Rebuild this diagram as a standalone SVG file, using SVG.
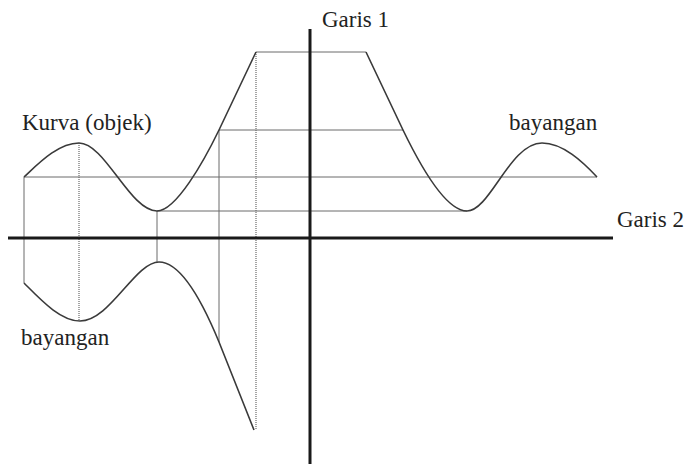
<svg xmlns="http://www.w3.org/2000/svg" width="686" height="464" viewBox="0 0 686 464">
<style>
.bg{fill:#ffffff}
.axis{stroke:#1a1a1a;stroke-width:3;fill:none}
.thin{stroke:#6a6a6a;stroke-width:1;fill:none}
.dot{stroke:#6a6a6a;stroke-width:1.2;fill:none;stroke-dasharray:1 1}
.curve{stroke:#3a3a3a;stroke-width:1.6;fill:none;stroke-linejoin:round}
.lbl{font-family:"Liberation Serif","DejaVu Serif","Times New Roman",serif;font-size:23px;fill:#222}
</style>
<rect class="bg" x="0" y="0" width="686" height="464"/>
<g id="connectors">
  <line class="thin" x1="256" y1="52" x2="366" y2="52"/>
  <line class="thin" x1="219" y1="130" x2="403" y2="130"/>
  <line class="thin" x1="24" y1="177" x2="597" y2="177"/>
  <line class="thin" x1="157" y1="211" x2="467" y2="211"/>
  <line class="thin" x1="24" y1="177" x2="24" y2="283"/>
  <line class="thin" x1="157" y1="211" x2="157" y2="262"/>
  <line class="thin" x1="219" y1="130" x2="219" y2="342"/>
  <line class="dot" x1="79" y1="143" x2="79" y2="321"/>
  <line class="dot" x1="256" y1="52" x2="256" y2="430"/>
</g>
<g id="garis1">
  <line class="axis" x1="310" y1="29" x2="310" y2="464"/>
  <text class="lbl" x="322" y="27">Garis 1</text>
</g>
<g id="garis2">
  <line class="axis" x1="8" y1="238" x2="613" y2="238"/>
  <text class="lbl" x="617" y="227">Garis 2</text>
</g>
<g id="objek">
  <path class="curve" d="M24,177 C38,164 58,143 79,143 C105,143 130,211 157,211 C176,211 204,161 219,130 L256,52"/>
  <text class="lbl" x="22" y="130">Kurva (objek)</text>
</g>
<g id="bayangan-kanan">
  <path class="curve" d="M366,52 L403,130 C418,161 445,211 467,211 C490,211 510,143 542,143 C563,143 583,162 597,177"/>
  <text class="lbl" x="509" y="130">bayangan</text>
</g>
<g id="bayangan-bawah">
  <path class="curve" d="M24,283 C40,299 60,321 80,321 C110,321 135,262 159,262 C183,262 205,308 219,342 L254,430"/>
  <text class="lbl" x="21" y="345">bayangan</text>
</g>
</svg>
